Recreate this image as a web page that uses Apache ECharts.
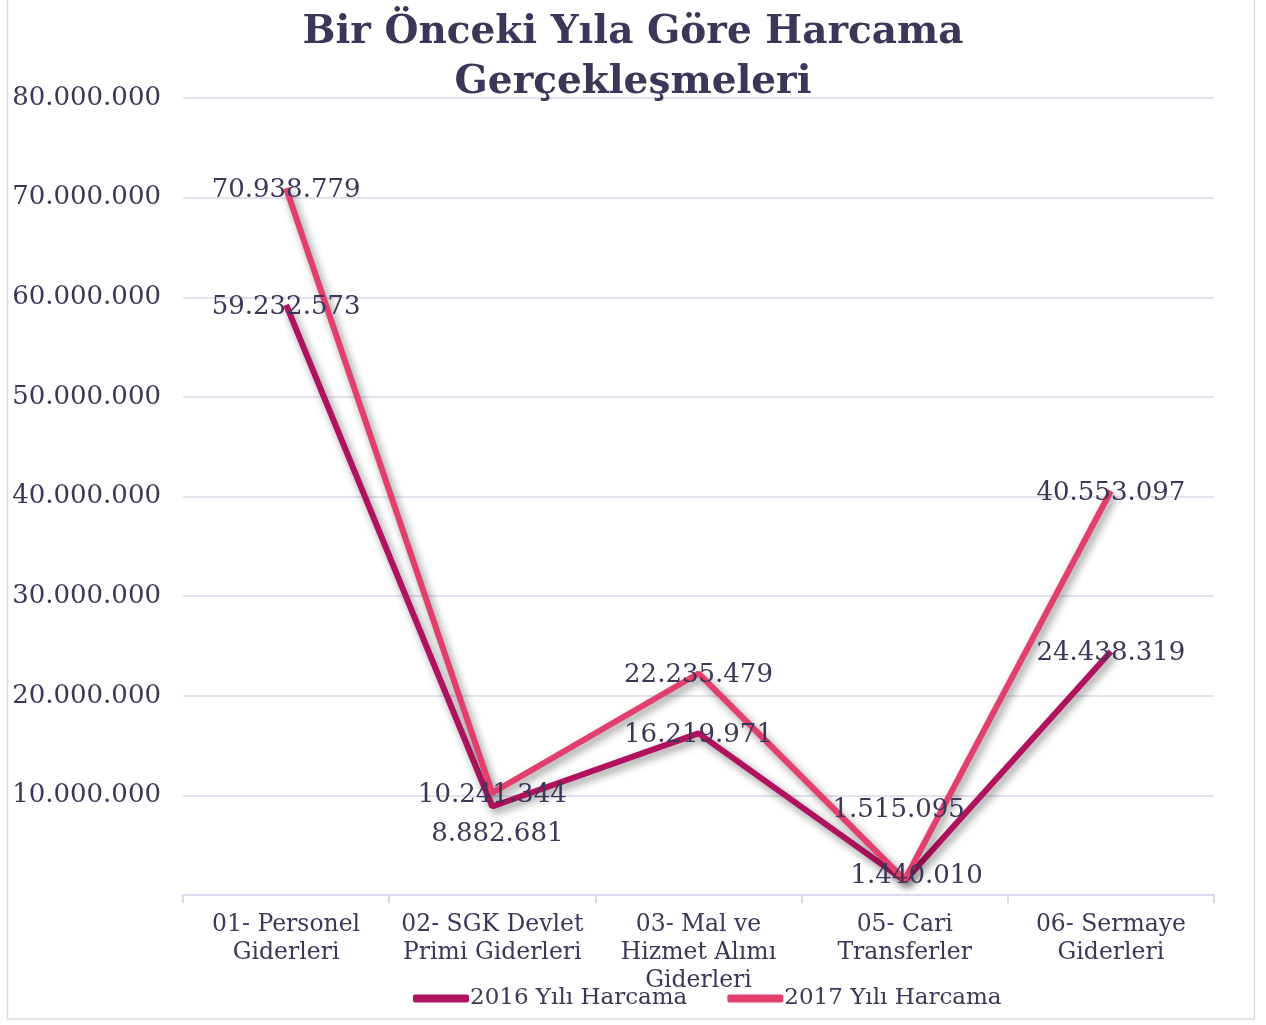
<!DOCTYPE html>
<html style="height: 100%">
<head>
    <meta charset="utf-8">
    <title>Bir Önceki Yıla Göre Harcama Gerçekleşmeleri</title>
    <script type="text/javascript" src="https://cdn.jsdelivr.net/npm/echarts@6/dist/echarts.min.js"></script>
</head>
<body style="height: 100%; margin: 0; background: #fff;">
<div id="container" style="width: 1266px; height: 1025px"></div>
<script type="text/javascript">
    // kategoriler ve seriler
    var categories = ['01- Personel\nGiderleri', '02- SGK Devlet\nPrimi Giderleri', '03- Mal ve\nHizmet Alımı\nGiderleri', '05- Cari\nTransferler', '06- Sermaye\nGiderleri'];
    var harcama2016 = [59232573, 8882681, 16219971, 1440010, 24438319];
    var harcama2017 = [70938779, 10241344, 22235479, 1515095, 40553097];
    var seriesNames = ['2016 Yılı Harcama', '2017 Yılı Harcama'];

    var textColor = '#3d3659';
    var gridColor = '#dcd9eb';
    var fontFam = '"DejaVu Serif", serif';

    // etiket kaydırma (sadece görünüm) : seri -> {veri indeksi: [dx, dy]}
    var labelShift = [{1: [5, 26], 3: [12, -6]}, {3: [-6, -72]}];

    function fmt(v) {
        return String(v).replace(/\B(?=(\d{3})+(?!\d))/g, '.');
    }

    var dom = document.getElementById('container');
    var myChart = echarts.init(dom);

    function lineSeries(idx, values, color) {
        return {
            name: seriesNames[idx],
            type: 'line',
            data: values,
            symbol: 'circle',
            symbolSize: 0.1,
            showSymbol: true,
            lineStyle: {
                color: color,
                width: 6,
                shadowColor: 'rgba(0,0,0,0.45)',
                shadowBlur: 8,
                shadowOffsetX: 3,
                shadowOffsetY: 4
            },
            itemStyle: {color: color},
            label: {
                show: true,
                position: 'inside',
                color: textColor,
                fontFamily: fontFam,
                fontSize: 26,
                formatter: function (p) { return fmt(p.value); }
            },
            labelLayout: function (params) {
                var s = labelShift[idx][params.dataIndex] || [0, 0];
                return {dx: s[0], dy: s[1] + 2, hideOverlap: false};
            },
            z: 3
        };
    }

    var option = {
        animation: false,
        textStyle: {fontFamily: fontFam},
        title: {
            text: 'Bir Önceki Yıla Göre Harcama\nGerçekleşmeleri',
            left: 'center',
            top: 3,
            textStyle: {
                color: textColor,
                fontFamily: fontFam,
                fontWeight: 'bold',
                fontSize: 39,
                lineHeight: 50
            }
        },
        graphic: [{
            type: 'rect',
            shape: {x: 7.5, y: -2, width: 1247, height: 1021},
            style: {fill: 'none', stroke: '#d9d9e3', lineWidth: 1.5},
            silent: true
        }],
        legend: {
            bottom: 10,
            left: 408,
            itemWidth: 56,
            itemHeight: 8,
            itemGap: 40,
            icon: 'roundRect',
            data: [
                {name: seriesNames[0], itemStyle: {color: '#b0125e'}},
                {name: seriesNames[1], itemStyle: {color: '#e33f6e'}}
            ],
            textStyle: {color: textColor, fontFamily: fontFam, fontSize: 23, padding: [0, 0, 0, -4]}
        },
        grid: {left: 183, right: 52, top: 98, bottom: 130, containLabel: false},
        xAxis: {
            type: 'category',
            data: categories,
            boundaryGap: true,
            axisLine: {lineStyle: {color: gridColor, width: 2}},
            axisTick: {show: true, length: 8, lineStyle: {color: gridColor, width: 2}},
            axisLabel: {
                color: textColor,
                fontFamily: fontFam,
                fontSize: 23.5,
                lineHeight: 28,
                margin: 16,
                interval: 0
            }
        },
        yAxis: {
            type: 'value',
            min: 0,
            max: 80000000,
            interval: 10000000,
            axisLine: {show: false},
            axisTick: {show: false},
            splitLine: {lineStyle: {color: gridColor, width: 1.5}},
            axisLabel: {
                color: textColor,
                fontFamily: fontFam,
                fontSize: 26,
                margin: 22,
                formatter: function (v) { return v === 0 ? '' : fmt(v); }
            }
        },
        series: [
            lineSeries(0, harcama2016, '#b0125e'),
            lineSeries(1, harcama2017, '#e33f6e')
        ]
    };
    myChart.setOption(option, true);
</script>
</body>
</html>
